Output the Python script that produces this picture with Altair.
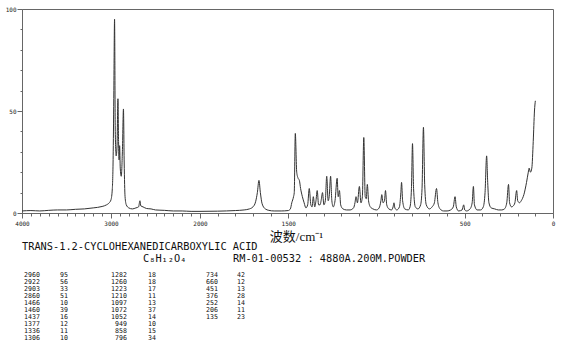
import altair as alt
import pandas as pd

# ---- spectrum ----
wavenumber = [4000, 3900, 3800, 3700, 3600, 3500, 3400, 3300, 3200, 3100, 3050, 3020, 3000,
              2985, 2975, 2968, 2960, 2952, 2942, 2932, 2922, 2915, 2909, 2903, 2896, 2885,
              2872, 2860, 2852, 2842, 2828, 2800, 2760, 2720, 2690, 2675, 2665, 2640, 2600,
              2550, 2500, 2400, 2300, 2200, 2100, 2000, 1900, 1800, 1750, 1720, 1700, 1685,
              1675, 1666, 1658, 1648, 1630, 1610, 1580, 1540, 1500, 1488, 1480, 1470, 1466,
              1460, 1452, 1444, 1437, 1430, 1420, 1410, 1400, 1390, 1381, 1372, 1365, 1358,
              1350, 1343, 1336, 1328, 1320, 1312, 1306, 1298, 1290, 1282, 1274, 1268, 1260,
              1253, 1245, 1235, 1223, 1217, 1210, 1203, 1190, 1170, 1150, 1130, 1122, 1116,
              1108, 1097, 1088, 1080, 1072, 1064, 1058, 1052, 1045, 1035, 1020, 1000, 985,
              975, 970, 963, 955, 949, 942, 930, 915, 906, 901, 896, 885, 870, 862, 858,
              852, 840, 820, 810, 802, 796, 790, 780, 765, 750, 742, 734, 727, 718, 700,
              685, 672, 660, 652, 640, 620, 600, 580, 565, 555, 548, 535, 515, 506, 500,
              490, 470, 458, 451, 445, 430, 410, 395, 385, 376, 370, 363, 350, 330, 310,
              290, 275, 262, 252, 246, 235, 225, 216, 206, 200, 190, 180, 165, 150, 140,
              135, 128, 120, 112, 105, 100]
intensity = [1.0, 1.2, 1.0, 1.3, 1.5, 1.5, 1.8, 2.0, 2.5, 3.2, 4.0, 5.0, 6.5,
             12, 30, 60, 95, 40, 28, 33, 56, 35, 26, 33, 22, 18,
             30, 51, 25, 8, 4, 2.5, 2.0, 2.5, 3.0, 6.0, 3.5, 3.0, 2.2,
             2.0, 1.5, 1.3, 1.0, 1.0, 0.8, 0.8, 0.9, 1.2, 1.5, 2.0, 3.0, 5.5,
             10, 16, 10, 4.5, 2.0, 1.3, 1.0, 1.0, 1.2, 2.0, 5.0, 8.0, 10,
             39, 20, 17, 16, 12, 8, 5, 2.5, 4, 12, 4, 3, 8,
             3, 6, 11, 4, 4, 7, 10, 4, 6, 18, 6, 8, 18,
             6, 3, 6, 17, 8, 11, 4, 2, 1.5, 1.5, 2.5, 5, 8,
             5, 13, 5, 8, 37, 8, 7, 14, 6, 3, 2, 1.5, 2.5,
             6, 9, 5, 6, 11, 4, 2, 1.5, 3, 5, 2.5, 1.5, 3, 10, 15,
             6, 2, 1.5, 3, 12, 34, 12, 3, 2, 4, 12, 42, 14, 4, 2,
             3, 5, 12, 5, 2, 1, 1, 1.5, 3, 8, 3, 1, 1.5, 4, 1.5,
             1, 2, 5, 13, 4, 1.5, 1.5, 3, 10, 28, 15, 5, 2.5, 2, 1.5,
             1.5, 2, 5, 14, 5, 3, 3.5, 5, 11, 6, 5, 6, 9, 15, 20,
             22, 20, 22, 35, 50, 55]

# ---- peak table ----
peak_wn_1 = [2960, 2922, 2903, 2860, 1466, 1460, 1437, 1377, 1336, 1306]
peak_int_1 = [95, 56, 33, 51, 10, 39, 16, 12, 11, 10]
peak_wn_2 = [1282, 1260, 1223, 1210, 1097, 1072, 1052, 949, 858, 796]
peak_int_2 = [18, 18, 17, 11, 13, 37, 14, 10, 15, 34]
peak_wn_3 = [734, 660, 451, 376, 252, 206, 135]
peak_int_3 = [42, 12, 13, 28, 14, 11, 23]

x_tick_values = list(range(4000, -1, -100))
x_label_values = [4000, 3000, 2000, 1500, 500, 0]
y_tick_values = list(range(0, 101, 10))
y_label_values = [0, 50, 100]

compound = "TRANS-1.2-CYCLOHEXANEDICARBOXYLIC ACID"
formula = "C₈H₁₂O₄"
sample_info = "RM-01-00532 : 4880A.200M.POWDER"
x_title = "波数/cm⁻¹"

W, H = 531, 204
MONO = "DejaVu Sans Mono"
AXC = "#666666"

df = pd.DataFrame({"wn": wavenumber, "I": intensity})

xl = "[" + ",".join(str(v) for v in x_label_values) + "]"
yl = "[" + ",".join(str(v) for v in y_label_values) + "]"

x_axis = alt.Axis(
    values=x_tick_values, format="d",
    labelExpr=f"indexof({xl}, datum.value) >= 0 ? datum.label : ''",
    tickSize=alt.condition(f"indexof({xl}, datum.value) >= 0", alt.value(5), alt.value(3)),
    labelOverlap=False, labelFlush=False, labelBound=False,
    labelFont=MONO, labelFontSize=6, labelColor="#222", labelPadding=2,
    domainColor=AXC, tickColor=AXC, grid=False,
    title=x_title, titleFont="Liberation Serif, Noto Sans CJK SC", titleFontSize=13,
    titleFontWeight="normal", titleColor="#111", titleX=274, titleY=23,
    titleBaseline="middle",
)
y_axis = alt.Axis(
    values=y_tick_values, format="d",
    labelExpr=f"indexof({yl}, datum.value) >= 0 ? datum.label : ''",
    tickSize=alt.condition(f"indexof({yl}, datum.value) >= 0", alt.value(5), alt.value(2)),
    labelOverlap=False, labelFlush=False, labelBound=False,
    labelFont=MONO, labelFontSize=6, labelColor="#222", labelPadding=1,
    domainColor=AXC, tickColor=AXC, grid=False, title=None,
)

line = alt.Chart(df).mark_line(color="#333333", strokeWidth=1, interpolate="monotone").encode(
    x=alt.X("wn:Q", scale=alt.Scale(domain=[4000, 2000, 0], range=[0, 178, W], nice=False, zero=False), axis=x_axis),
    y=alt.Y("I:Q", scale=alt.Scale(domain=[0, 100], nice=False), axis=y_axis),
)

def text_layer(txt, x, y, size, align="left", baseline="middle", lh=None, font=MONO):
    kw = dict(align=align, baseline=baseline, font=font, fontSize=size, color="#111")
    if lh is not None:
        kw["lineBreak"] = "\n"
        kw["lineHeight"] = lh
    return alt.Chart(pd.DataFrame({"t": [txt]})).mark_text(**kw).encode(
        text="t:N", x=alt.value(x), y=alt.value(y))

layers = [line,
          text_layer(compound, 0, 238, 10.3),
          text_layer(formula, 121, 250, 10.3),
          text_layer(sample_info, 211, 250, 10.3)]

cols = [(peak_wn_1, peak_int_1, 18, 38), (peak_wn_2, peak_int_2, 105, 126), (peak_wn_3, peak_int_3, 196, 215)]
for wns, ints, xr, xi in cols:
    layers.append(text_layer("\n".join(str(v) for v in wns), xr, 263, 6.6, align="right", baseline="top", lh=7))
    layers.append(text_layer("\n".join(str(v) for v in ints), xi, 263, 6.6, align="left", baseline="top", lh=7))

chart = alt.layer(*layers).properties(
    width=W, height=H,
    autosize=alt.AutoSizeParams(type="none"),
    padding={"left": 22, "top": 9, "right": 17, "bottom": 142},
    background="white",
).configure_view(stroke=AXC, strokeWidth=1)

chart.save("out.html", embed_options={"renderer": "svg", "actions": False})
